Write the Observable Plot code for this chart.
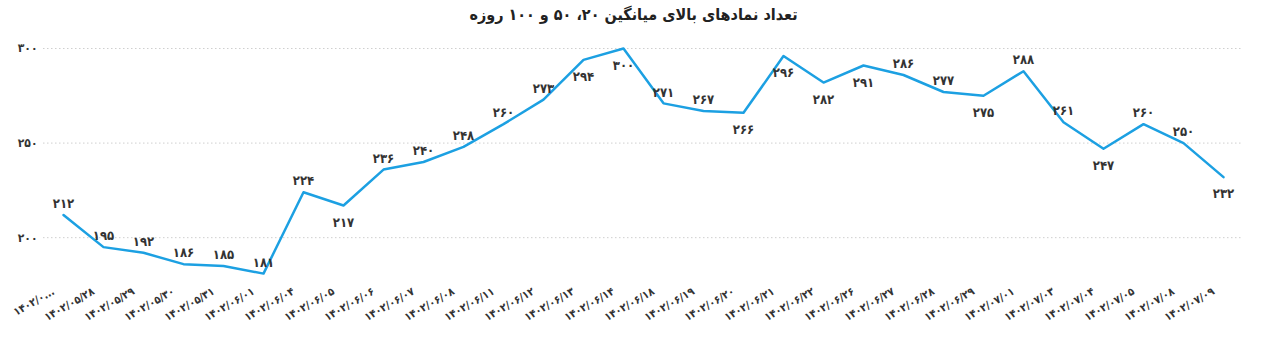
<!DOCTYPE html>
<html>
<head>
<meta charset="utf-8">
<script src="https://cdn.jsdelivr.net/npm/d3@7"></script>
<script src="https://cdn.jsdelivr.net/npm/@observablehq/plot@0.6"></script>
<style>
  body { margin: 0; background: #fff; }
  #title { height: 30px; line-height: 30px; text-align: center; font-family: "DejaVu Sans Condensed", "DejaVu Sans", sans-serif; font-weight: bold; font-size: 16px; color: #222; direction: rtl; }
</style>
</head>
<body>
<div id="title">تعداد نمادهای بالای میانگین ۲۰، ۵۰ و ۱۰۰ روزه</div>
<div id="chart"></div>
<script>
const dates = ["۱۴۰۲/۰...", "۱۴۰۲/۰۵/۲۸", "۱۴۰۲/۰۵/۲۹", "۱۴۰۲/۰۵/۳۰", "۱۴۰۲/۰۵/۳۱", "۱۴۰۲/۰۶/۰۱", "۱۴۰۲/۰۶/۰۴", "۱۴۰۲/۰۶/۰۵", "۱۴۰۲/۰۶/۰۶", "۱۴۰۲/۰۶/۰۷", "۱۴۰۲/۰۶/۰۸", "۱۴۰۲/۰۶/۱۱", "۱۴۰۲/۰۶/۱۲", "۱۴۰۲/۰۶/۱۳", "۱۴۰۲/۰۶/۱۴", "۱۴۰۲/۰۶/۱۸", "۱۴۰۲/۰۶/۱۹", "۱۴۰۲/۰۶/۲۰", "۱۴۰۲/۰۶/۲۱", "۱۴۰۲/۰۶/۲۲", "۱۴۰۲/۰۶/۲۶", "۱۴۰۲/۰۶/۲۷", "۱۴۰۲/۰۶/۲۸", "۱۴۰۲/۰۶/۲۹", "۱۴۰۲/۰۷/۰۱", "۱۴۰۲/۰۷/۰۳", "۱۴۰۲/۰۷/۰۴", "۱۴۰۲/۰۷/۰۵", "۱۴۰۲/۰۷/۰۸", "۱۴۰۲/۰۷/۰۹"];
const values = [212, 195, 192, 186, 185, 181, 224, 217, 236, 240, 248, 260, 273, 294, 300, 271, 267, 266, 296, 282, 291, 286, 277, 275, 288, 261, 247, 260, 250, 232];
const yTicks = [200, 250, 300];
// which value labels sit under the line
const labelsBelow = new Set(["۱۴۰۲/۰۶/۰۵", "۱۴۰۲/۰۶/۱۳", "۱۴۰۲/۰۶/۱۴", "۱۴۰۲/۰۶/۲۰", "۱۴۰۲/۰۶/۲۱", "۱۴۰۲/۰۶/۲۲", "۱۴۰۲/۰۶/۲۶", "۱۴۰۲/۰۶/۲۹", "۱۴۰۲/۰۷/۰۴", "۱۴۰۲/۰۷/۰۹"]);

const fa = n => String(n).replace(/\d/g, d => "۰۱۲۳۴۵۶۷۸۹"[d]);
const data = dates.map((d, i) => ({date: d, value: values[i]}));
const font = "'DejaVu Sans Condensed', 'DejaVu Sans', sans-serif";

const chart = Plot.plot({
  width: 1267,
  height: 322,
  marginLeft: 43,
  marginRight: 24,
  marginTop: 18,
  marginBottom: 77,
  style: {fontFamily: font, background: "#fff", color: "#333"},
  x: {type: "point", domain: dates, padding: 0.5},
  y: {domain: [180, 300]},
  marks: [
    Plot.ruleY(yTicks, {stroke: "#cfcfcf", strokeDasharray: "1.5,2.5", strokeWidth: 1}),
    Plot.axisY(yTicks, {tickSize: 0, tickPadding: 6, tickFormat: fa, fontSize: 12, fontWeight: "bold", fill: "#333", label: null}),
    Plot.axisX({tickSize: 0, tickRotate: -30, tickPadding: 8, dx: -10, dy: 7, fontSize: 11, fontWeight: "bold", fill: "#333", label: null}),
    Plot.line(data, {x: "date", y: "value", stroke: "#1ca0e2", strokeWidth: 2.5}),
    Plot.text(data.filter(d => !labelsBelow.has(d.date)), {x: "date", y: "value", text: d => fa(d.value), dy: -11, fontSize: 13, fontWeight: "bold", fill: "#333"}),
    Plot.text(data.filter(d => labelsBelow.has(d.date)), {x: "date", y: "value", text: d => fa(d.value), dy: 17, fontSize: 13, fontWeight: "bold", fill: "#333"})
  ]
});
document.getElementById("chart").appendChild(chart);
</script>
</body>
</html>
